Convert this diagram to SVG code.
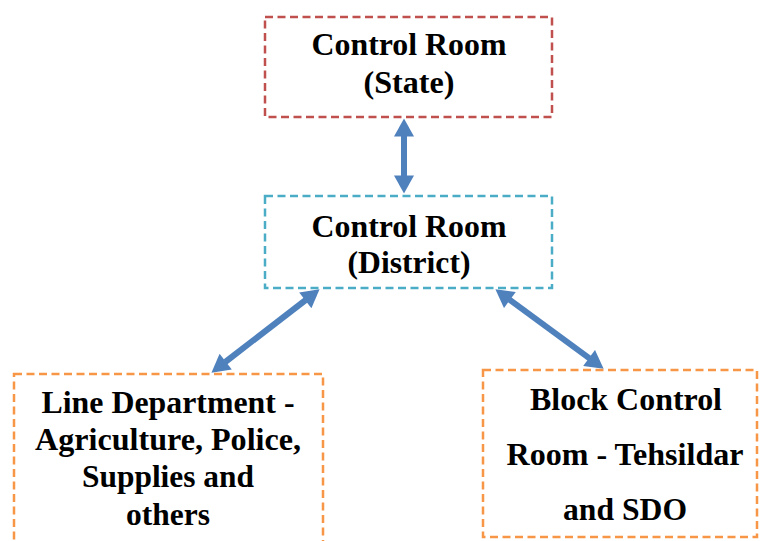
<svg xmlns="http://www.w3.org/2000/svg" width="760" height="541" viewBox="0 0 760 541">
<style>
.box{fill:#fff;stroke-width:2.5;stroke-dasharray:8 4.5}
.red{stroke:#C0504D}
.cyan{stroke:#4BACC6}
.orange{stroke:#F79646}
.t{font-family:"Liberation Serif","Times New Roman",serif;font-weight:bold;font-size:31px;fill:#000;text-anchor:middle}
.conn{stroke:#4F81BD;stroke-width:6;fill:none}
</style>
<defs>
<marker id="ah" markerUnits="userSpaceOnUse" markerWidth="20" markerHeight="20" viewBox="0 0 18 20" refX="0.5" refY="10" orient="auto-start-reverse">
<path d="M0,0 L18,10 L0,20 Z" fill="#4F81BD"/>
</marker>
</defs>
<g id="connectors">
<line class="conn" x1="404" y1="136" x2="404" y2="176" marker-start="url(#ah)" marker-end="url(#ah)"/>
<line class="conn" x1="305.7" y1="300" x2="225.3" y2="362" marker-start="url(#ah)" marker-end="url(#ah)"/>
<line class="conn" x1="509.5" y1="299.7" x2="589.5" y2="358.3" marker-start="url(#ah)" marker-end="url(#ah)"/>
</g>
<g id="state">
<rect class="box red" x="265" y="17" width="287" height="100"/>
<text class="t" x="409" y="55" textLength="195" lengthAdjust="spacingAndGlyphs">Control Room</text>
<text class="t" x="409" y="93" textLength="91" lengthAdjust="spacingAndGlyphs">(State)</text>
</g>
<g id="district">
<rect class="box cyan" x="265" y="196" width="287" height="92"/>
<text class="t" x="409" y="237" textLength="195" lengthAdjust="spacingAndGlyphs">Control Room</text>
<text class="t" x="409" y="273" textLength="123" lengthAdjust="spacingAndGlyphs">(District)</text>
</g>
<g id="line-department">
<rect class="box orange" x="14" y="374" width="309" height="180"/>
<text class="t" x="168" y="413" textLength="253" lengthAdjust="spacingAndGlyphs">Line Department -</text>
<text class="t" x="168" y="450" textLength="266" lengthAdjust="spacingAndGlyphs">Agriculture, Police,</text>
<text class="t" x="168" y="487" textLength="172" lengthAdjust="spacingAndGlyphs">Supplies and</text>
<text class="t" x="168" y="525" textLength="84" lengthAdjust="spacingAndGlyphs">others</text>
</g>
<g id="block-control">
<rect class="box orange" x="483" y="370" width="274" height="167"/>
<text class="t" x="626" y="410" textLength="192" lengthAdjust="spacingAndGlyphs">Block Control</text>
<text class="t" x="625" y="465" textLength="237" lengthAdjust="spacingAndGlyphs">Room - Tehsildar</text>
<text class="t" x="625" y="520" textLength="124" lengthAdjust="spacingAndGlyphs">and SDO</text>
</g>
</svg>
